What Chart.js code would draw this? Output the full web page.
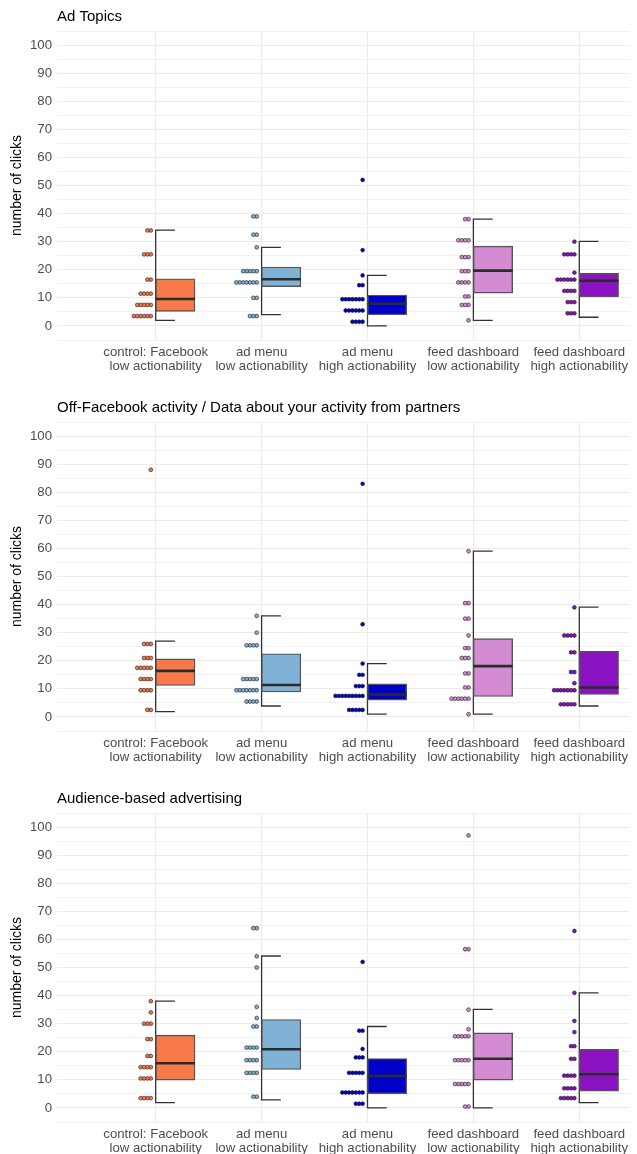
<!DOCTYPE html>
<html lang="en">
<head>
<meta charset="UTF-8" />
<title>Clicks per condition</title>
<script src="https://cdn.jsdelivr.net/npm/chart.js@4.4.0/dist/chart.umd.min.js"></script>
<style>
  body { margin: 0; background: #fff; }
  #wrap { width: 637px; height: 1154px; overflow: hidden; }
  canvas { display: block; }
</style>
</head>
<body>
<div id="wrap">
  <canvas id="c0" width="637" height="391"></canvas>
  <canvas id="c1" width="637" height="391"></canvas>
  <canvas id="c2" width="637" height="391"></canvas>
</div>
<script>
// ── data ────────────────────────────────────────────────
const categories = [
  ['control: Facebook', 'low actionability'],
  ['ad menu', 'low actionability'],
  ['ad menu', 'high actionability'],
  ['feed dashboard', 'low actionability'],
  ['feed dashboard', 'high actionability']
];
const fillColors = ['#F8794A', '#7FB2D4', '#0000C8', '#D58BD3', '#8A12C0'];
const panelTitles = [
  'Ad Topics',
  'Off-Facebook activity / Data about your activity from partners',
  'Audience-based advertising'
];
const yTicks = [0, 10, 20, 30, 40, 50, 60, 70, 80, 90, 100];

// box stats, one row per panel, one value per category
const whiskerLow = [
  [2.0, 4.0, 0.0, 2.0, 3.1],
  [1.9, 3.9, 1.0, 1.0, 3.9],
  [1.9, 2.9, 0.0, 0.0, 1.9]
];
const q1 = [
  [5.2, 14.0, 4.0, 11.7, 10.3],
  [11.2, 8.9, 6.0, 7.3, 8.0],
  [9.9, 13.7, 5.0, 9.9, 6.0]
];
const median = [
  [9.6, 16.6, 7.9, 19.7, 16.1],
  [16.4, 11.4, 8.0, 18.1, 10.5],
  [15.9, 20.9, 11.4, 17.5, 12.0]
];
const q3 = [
  [16.8, 21.0, 11.0, 28.4, 18.7],
  [20.7, 22.5, 11.8, 27.9, 23.4],
  [25.9, 31.5, 17.6, 26.7, 20.9]
];
const whiskerHigh = [
  [34.1, 28.0, 18.0, 38.0, 30.1],
  [27.0, 36.0, 19.0, 59.0, 39.1],
  [38.0, 54.1, 29.0, 35.1, 41.0]
];

// dot bins: [clicks, number of participants]
const dotsAdTopics = [
  [[34, 2], [25.5, 3], [16.5, 2], [11.5, 4], [7.5, 5], [3.5, 6]],
  [[39, 2], [32.5, 2], [28, 1], [19.5, 5], [15.5, 7], [10, 2], [3.5, 3]],
  [[52, 1], [27, 1], [18, 1], [14.5, 2], [9.5, 7], [5.5, 6], [1.5, 4]],
  [[38, 2], [30.5, 4], [24.5, 3], [19.5, 3], [15.5, 4], [10.5, 2], [7.5, 3], [2, 1]],
  [[30, 1], [25.5, 4], [19, 1], [16.5, 6], [12.5, 4], [8.5, 3], [4.5, 3]]
];
const dotsOffFacebook = [
  [[88, 1], [26, 3], [21, 3], [17.5, 5], [13.5, 4], [9.5, 4], [2.5, 2]],
  [[36, 1], [30, 1], [25.5, 4], [13.5, 5], [9.5, 7], [5.5, 4]],
  [[83, 1], [33, 1], [19, 1], [15, 2], [11, 3], [7.5, 9], [2.5, 5]],
  [[59, 1], [40.5, 2], [35, 2], [29, 1], [24.5, 2], [21, 3], [15.5, 2], [10.5, 2], [6.5, 6], [1, 1]],
  [[39, 1], [29, 4], [23, 2], [16, 2], [12, 1], [9.5, 7], [4.5, 5]]
];
const dotsAudience = [
  [[38, 1], [34, 1], [30, 3], [24.5, 2], [18.5, 2], [14.5, 4], [10.5, 4], [3.5, 4]],
  [[64, 2], [54, 1], [50, 1], [36, 1], [32, 1], [29, 2], [21.5, 4], [17, 4], [12.5, 4], [4, 2]],
  [[52, 1], [27.5, 2], [21, 1], [18, 3], [12.5, 5], [5.5, 7], [1.5, 3]],
  [[97, 1], [56.5, 2], [35, 1], [28, 1], [25.5, 5], [17, 5], [8.5, 5], [0.5, 2]],
  [[63, 1], [41, 1], [31, 1], [27, 1], [22, 2], [17.5, 2], [11.5, 4], [7, 4], [3.5, 5]]
];
const panelDots = [dotsAdTopics, dotsOffFacebook, dotsAudience];

// ── layout constants ────────────────────────────────────
const FONT = '"Liberation Sans", Arial, Helvetica, sans-serif';
Chart.defaults.font.family = FONT;
const X_MIN = 0.068, X_MAX = 5.479;
const BOX_W = 0.371, CAP_W = 0.182, BOX_PX = 39.3;
const DOT_OFF = 0.046, DOT_STEP = 0.032;

function panelTitle(text) {
  return {
    id: 'panelTitle',
    afterDraw(chart) {
      const ctx = chart.ctx;
      ctx.save();
      ctx.font = '15px ' + FONT;
      ctx.fillStyle = '#000';
      ctx.textBaseline = 'middle';
      ctx.fillText(text, chart.chartArea.left, 17);
      ctx.restore();
    }
  };
}

function makePanel(p) {
  const whisk = [], med = [], dots = [], dotColors = [];
  categories.forEach((_, i) => {
    const c = i + 1;
    whisk.push({x: c + CAP_W, y: whiskerHigh[p][i]}, {x: c, y: whiskerHigh[p][i]},
               {x: c, y: whiskerLow[p][i]}, {x: c + CAP_W, y: whiskerLow[p][i]},
               {x: c + CAP_W, y: null});
    med.push({x: c, y: median[p][i]}, {x: c + BOX_W, y: median[p][i]}, {x: c + BOX_W, y: null});
    panelDots[p][i].forEach(([v, n]) => {
      for (let k = 0; k < n; k++) {
        dots.push({x: c - DOT_OFF - k * DOT_STEP, y: v});
        dotColors.push(fillColors[i]);
      }
    });
  });

  new Chart(document.getElementById('c' + p), {
    type: 'scatter',
    data: {
      datasets: [
        { type: 'scatter', data: whisk, showLine: true, pointRadius: 0,
          borderColor: '#333', borderWidth: 1.3, order: 4 },
        { type: 'bar', data: categories.map((_, i) => ({x: i + 1 + BOX_W / 2, y: [q1[p][i], q3[p][i]]})),
          backgroundColor: fillColors, borderColor: '#555', borderWidth: 1.4,
          borderSkipped: false, barThickness: BOX_PX, order: 3 },
        { type: 'scatter', data: med, showLine: true, pointRadius: 0,
          borderColor: '#2b2b2b', borderWidth: 2.6, order: 2 },
        { type: 'scatter', data: dots, pointRadius: 1.9, pointBorderWidth: 0.6,
          pointBackgroundColor: dotColors, pointBorderColor: '#1a1a1a', order: 1 }
      ]
    },
    options: {
      responsive: false,
      animation: false,
      layout: { padding: { top: 31, right: 7, left: 0, bottom: 0 } },
      plugins: { legend: { display: false }, tooltip: { enabled: false } },
      scales: {
        x: {
          type: 'linear', min: X_MIN, max: X_MAX, offset: false,
          border: { display: false },
          grid: { color: '#EBEBEB', lineWidth: 1.1, drawTicks: false, offset: false },
          afterBuildTicks: s => { s.ticks = categories.map((_, i) => ({value: i + 1})); },
          afterFit: s => { s.height = 51; },
          ticks: {
            autoSkip: false, maxRotation: 0, padding: 5,
            color: '#4D4D4D', font: { size: 13.2, lineHeight: 1.08 },
            callback: v => categories[Math.round(v) - 1]
          }
        },
        y: {
          min: -5, max: 105,
          border: { display: false },
          grid: {
            drawTicks: false,
            color: ctx => (ctx.tick && ctx.tick.value % 10 === 0) ? '#EBEBEB' : '#F1F1F1',
            lineWidth: 1
          },
          afterFit: s => { s.width = 57; },
          ticks: {
            stepSize: 5, autoSkip: false, padding: 5,
            color: '#4D4D4D', font: { size: 13.2 },
            callback: v => yTicks.includes(v) ? String(v) : ''
          },
          title: {
            display: true, text: 'number of clicks', color: '#000',
            font: { size: 14 }, padding: { top: 9, bottom: 0 }
          }
        }
      }
    },
    plugins: [panelTitle(panelTitles[p])]
  });
}

[0, 1, 2].forEach(makePanel);
</script>
</body>
</html>
